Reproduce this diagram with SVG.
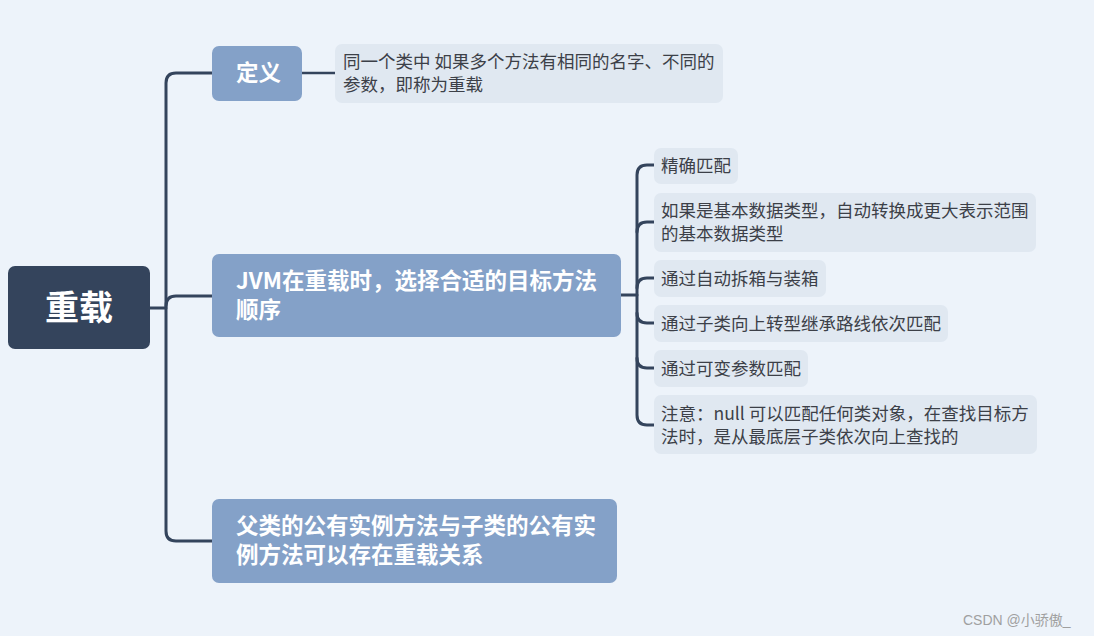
<svg xmlns="http://www.w3.org/2000/svg" width="1094" height="636" viewBox="0 0 1094 636">
<style>
.bg{fill:#edf3fa}
.root{fill:#34445c}
.main{fill:#84a1c8}
.leaf{fill:#e0e8f1}
.conn{fill:none;stroke:#34445c;stroke-width:3;stroke-linecap:round}
.t{font-family:"Noto Sans CJK SC","Microsoft YaHei",sans-serif}
.rt{font-size:34px;font-weight:bold;fill:#ffffff}
.mt{font-size:22.5px;font-weight:bold;fill:#ffffff}
.lt{font-size:17.5px;fill:#3c4048}
.wm{font-family:"Liberation Sans","Noto Sans CJK SC",sans-serif;font-size:14px;fill:#a0a0a0}
</style>
<rect class="bg" x="0" y="0" width="1094" height="636"/>
<g id="connectors">
<path class="conn" d="M150 308 H166"/>
<path class="conn" d="M212 73 H176 Q166 73 166 83 V531 Q166 541 176 541 H212"/>
<path class="conn" d="M166 306 Q166 296 176 296 H212"/>
<path class="conn" d="M302 73 H335" style="stroke-width:2.5"/>
<path class="conn" d="M621 295 H637"/>
<path class="conn" d="M654 165 H647 Q637 165 637 175 V415 Q637 425 647 425 H654"/>
<path class="conn" d="M637 232 Q637 222 647 222 H654"/>
<path class="conn" d="M637 288 Q637 278 647 278 H654"/>
<path class="conn" d="M637 313 Q637 323 647 323 H654"/>
<path class="conn" d="M637 358 Q637 368 647 368 H654"/>
</g>
<g id="root">
<rect class="root" x="8" y="266" width="142" height="83" rx="7"/>
<text class="t rt" x="79" y="320" text-anchor="middle">重载</text>
</g>
<g id="def">
<rect class="main" x="212" y="46" width="90" height="55" rx="7"/>
<text class="t mt" x="236" y="81">定义</text>
</g>
<g id="def-note">
<rect class="leaf" x="335" y="44" width="388" height="59" rx="7"/>
<text class="t lt" x="343" y="68">同一个类中 如果多个方法有相同的名字、不同的</text>
<text class="t lt" x="343" y="91">参数，即称为重载</text>
</g>
<g id="jvm">
<rect class="main" x="212" y="254" width="409" height="83" rx="7"/>
<text class="t mt" x="236" y="289">JVM在重载时，选择合适的目标方法</text>
<text class="t mt" x="236" y="318">顺序</text>
</g>
<g id="parent">
<rect class="main" x="212" y="499" width="405" height="84" rx="7"/>
<text class="t mt" x="236" y="534">父类的公有实例方法与子类的公有实</text>
<text class="t mt" x="236" y="563">例方法可以存在重载关系</text>
</g>
<g id="c1">
<rect class="leaf" x="654" y="148" width="84" height="36" rx="7"/>
<text class="t lt" x="661" y="172">精确匹配</text>
</g>
<g id="c2">
<rect class="leaf" x="654" y="193" width="382" height="59" rx="7"/>
<text class="t lt" x="661" y="217">如果是基本数据类型，自动转换成更大表示范围</text>
<text class="t lt" x="661" y="240">的基本数据类型</text>
</g>
<g id="c3">
<rect class="leaf" x="654" y="260" width="172" height="37" rx="7"/>
<text class="t lt" x="661" y="285">通过自动拆箱与装箱</text>
</g>
<g id="c4">
<rect class="leaf" x="654" y="305" width="294" height="37" rx="7"/>
<text class="t lt" x="661" y="330">通过子类向上转型继承路线依次匹配</text>
</g>
<g id="c5">
<rect class="leaf" x="654" y="350" width="154" height="37" rx="7"/>
<text class="t lt" x="661" y="375">通过可变参数匹配</text>
</g>
<g id="c6">
<rect class="leaf" x="654" y="395" width="383" height="59" rx="7"/>
<text class="t lt" x="661" y="420">注意：null 可以匹配任何类对象，在查找目标方</text>
<text class="t lt" x="661" y="443">法时，是从最底层子类依次向上查找的</text>
</g>
<text class="wm" x="963" y="625">CSDN @小骄傲_</text>
</svg>
